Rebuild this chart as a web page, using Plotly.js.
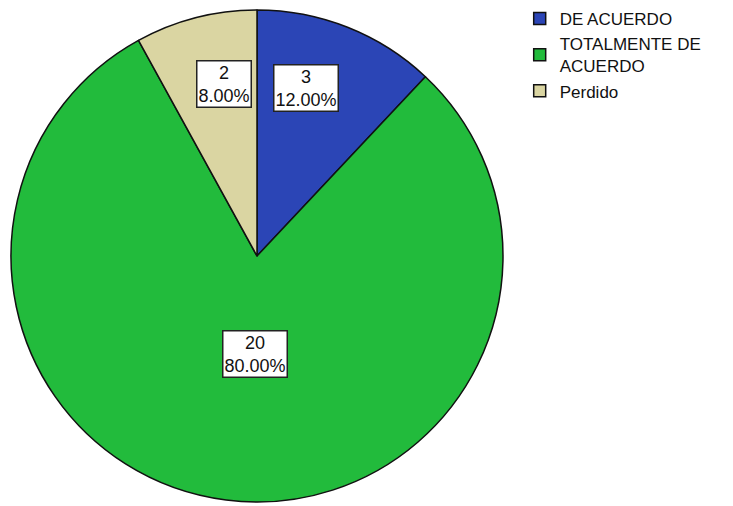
<!DOCTYPE html>
<html>
<head>
<meta charset="utf-8">
<script src="https://cdn.plot.ly/plotly-3.0.1.min.js"></script>
<style>html,body{margin:0;padding:0;background:#fff;}#chart{width:733px;height:506px;}</style>
</head>
<body>
<div id="chart"></div>
<script>
var categories = ["DE ACUERDO", "TOTALMENTE DE<br>ACUERDO", "Perdido"];
var counts = [3, 20, 2];
var colors = ["#2B45B6", "#22BB3C", "#DAD5A2"];

var total = counts.reduce(function(a, b) { return a + b; }, 0);
var percents = counts.map(function(v) { return (100 * v / total).toFixed(2) + "%"; });

var W = 733, H = 506;
var cx = 257, cy = 256, R = 246;
var domX = [(cx - R) / W, (cx + R) / W];
var domY = [(H - cy - R) / H, (H - cy + R) / H];

var trace = {
  type: "pie",
  labels: categories,
  values: counts,
  sort: false,
  direction: "clockwise",
  rotation: 0,
  textinfo: "none",
  hoverinfo: "label+value+percent",
  marker: { colors: colors, line: { color: "#111", width: 1.5 } },
  domain: { x: domX, y: domY }
};

// label boxes computed from the data (angles from the slice shares)
var annotations = [];
var acc = 0;
for (var i = 0; i < counts.length; i++) {
  var share = counts[i] / total;
  var mid = (acc + share / 2) * 360;
  acc += share;
  var ang, frac;
  if (share > 0.5) {
    frac = 0.4;
    ang = 180 + (mid - 180) * 0.2;
  } else {
    frac = 0.71;
    ang = (mid > 180 ? mid - 360 : mid) * 0.75;
  }
  var rad = ang * Math.PI / 180;
  var px = cx + frac * R * Math.sin(rad);
  var py = cy - frac * R * Math.cos(rad);
  annotations.push({
    xref: "paper", yref: "paper",
    x: px / W, y: 1 - py / H,
    xanchor: "center", yanchor: "middle",
    showarrow: false,
    text: counts[i] + "<br>" + percents[i],
    font: { family: "Liberation Sans, Arial, sans-serif", size: 18, color: "#111" },
    bgcolor: "#ffffff",
    bordercolor: "#222",
    borderwidth: 1.5,
    borderpad: 1
  });
}

var layout = {
  width: W, height: H,
  margin: { l: 0, r: 0, t: 0, b: 0 },
  paper_bgcolor: "#ffffff",
  showlegend: true,
  legend: {
    x: 0.709, y: 0.998, xanchor: "left", yanchor: "top",
    font: { family: "Liberation Sans, Arial, sans-serif", size: 17, color: "#111" },
    tracegroupgap: 0,
    itemclick: false
  },
  annotations: annotations
};

Plotly.newPlot("chart", [trace], layout, { displayModeBar: false, staticPlot: true });
</script>
</body>
</html>
